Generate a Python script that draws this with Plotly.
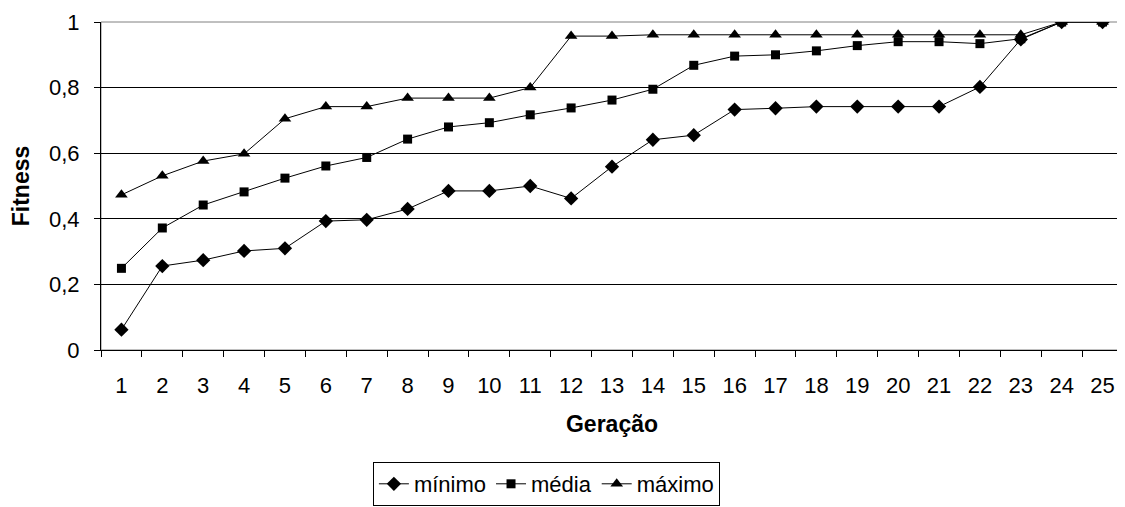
import plotly.graph_objects as go

geracao = [str(i) for i in range(1, 26)]
minimo = [0.062, 0.256, 0.274, 0.302, 0.310, 0.393, 0.397, 0.430, 0.485, 0.485,
          0.500, 0.462, 0.559, 0.641, 0.655, 0.733, 0.737, 0.742, 0.742, 0.742,
          0.742, 0.802, 0.947, 1.0, 1.0]
media = [0.249, 0.372, 0.442, 0.482, 0.524, 0.561, 0.587, 0.643, 0.680, 0.693,
         0.717, 0.738, 0.762, 0.795, 0.868, 0.896, 0.900, 0.912, 0.928, 0.940,
         0.940, 0.934, 0.949, 1.0, 1.0]
maximo = [0.473, 0.531, 0.576, 0.598, 0.705, 0.742, 0.742, 0.768, 0.768, 0.768,
          0.800, 0.957, 0.957, 0.961, 0.961, 0.961, 0.961, 0.961, 0.961, 0.961,
          0.961, 0.961, 0.961, 1.0, 1.0]
y_ticks = [0, 0.2, 0.4, 0.6, 0.8, 1]
y_ticklabels = ["0", "0,2", "0,4", "0,6", "0,8", "1"]

FONT = "Liberation Sans, Arial, sans-serif"
FS = 22
FT = 23

fig = go.Figure()
series = [("mínimo", minimo, "diamond", 11),
          ("média", media, "square", 9),
          ("máximo", maximo, "triangle-up", 11)]
for name, vals, sym, sz in series:
    fig.add_trace(go.Scatter(
        x=geracao, y=vals, name=name, mode="lines+markers",
        line=dict(color="black", width=1),
        marker=dict(symbol=sym, size=sz, color="black"),
    ))

# the page body adds an 8px margin, so the figure is sized/offset to compensate
fig.update_layout(
    width=1117, height=499,
    margin=dict(l=93, r=2, t=11, b=157),
    paper_bgcolor="white", plot_bgcolor="white",
    font=dict(family=FONT, size=FS, color="black"),
    showlegend=True,
    legend=dict(
        orientation="h", xref="container", yref="container",
        x=0.482, xanchor="center", y=1 - 454 / 499, yanchor="top",
        bordercolor="black", borderwidth=1,
        font=dict(family=FONT, size=FS, color="black"),
        itemwidth=30, tracegroupgap=0,
    ),
    xaxis=dict(
        type="category", tickson="boundaries",
        showline=True, linecolor="black", linewidth=1,
        ticks="outside", ticklen=6, tickcolor="black",
        showgrid=False, ticklabelstandoff=16,
        title=dict(text="<b>Geração</b>", standoff=18,
                   font=dict(family=FONT, size=FT)),
        range=[-0.5, 24.5],
    ),
    yaxis=dict(
        range=[0, 1], tickvals=y_ticks, ticktext=y_ticklabels,
        showline=True, linecolor="black", linewidth=1,
        ticks="outside", ticklen=6, tickcolor="black",
        showgrid=True, gridcolor="black", gridwidth=1,
        zeroline=False, ticklabelstandoff=10, ticklabeloverflow="allow",
        title=dict(text="<b>Fitness</b>", standoff=18,
                   font=dict(family=FONT, size=FT)),
    ),
    shapes=[dict(type="rect", xref="paper", yref="paper", x0=0, x1=1, y0=0, y1=1,
                 line=dict(color="#808080", width=1), layer="below")],
)

fig.write_html("out.html")
